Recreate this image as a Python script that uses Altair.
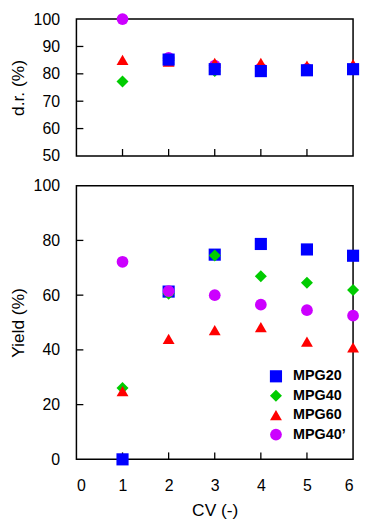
import altair as alt
import pandas as pd

# ---- data ----
cv = [1, 2, 3, 4, 5, 6]
series = ["MPG20", "MPG40", "MPG60", "MPG40\u2019"]
colors = ["#0000FF", "#00CC00", "#FF0000", "#CC00FF"]
shapes = ["square", "diamond", "triangle-up", "circle"]

# d.r. (%) values (top panel)
dr_mpg20 = [None, 85.2, 81.7, 81.0, 81.3, 81.7]
dr_mpg40 = [77.2, 85.0, 81.0, 81.5, 81.5, 81.8]
dr_mpg60 = [85.1, 84.5, 84.0, 84.0, 83.0, 83.5]
dr_mpg40p = [100.0, 85.8, 83.0, 82.0, 81.8, 81.8]

# Yield (%) values (bottom panel)
y_mpg20 = [0.0, 61.3, 74.8, 78.7, 76.7, 74.4]
y_mpg40 = [26.1, 60.5, 74.5, 66.9, 64.5, 61.9]
y_mpg60 = [24.9, 44.0, 47.2, 48.3, 43.0, 40.9]
y_mpg40p = [72.2, 61.5, 60.0, 56.5, 54.5, 52.5]

# axis tick values
x_labels = [0, 1, 2, 3, 4, 5, 6]
x_inner_ticks = [1, 2, 3, 4, 5]
dr_labels = [50, 60, 70, 80, 90, 100]
dr_inner_ticks = [60, 70, 80, 90]
y_labels = [0, 20, 40, 60, 80, 100]
y_inner_ticks = [20, 40, 60, 80]


def long_df(cols, order):
    rows = []
    for name in order:
        vals = cols[name]
        for c, v in zip(cv, vals):
            if v is not None:
                rows.append({"CV": c, "val": v, "series": name})
    return pd.DataFrame(rows)


dr_cols = dict(zip(series, [dr_mpg20, dr_mpg40, dr_mpg60, dr_mpg40p]))
y_cols = dict(zip(series, [y_mpg20, y_mpg40, y_mpg60, y_mpg40p]))
# drawing order differs per panel
dr_df = long_df(dr_cols, ["MPG40\u2019", "MPG40", "MPG60", "MPG20"])
y_df = long_df(y_cols, ["MPG20", "MPG40", "MPG60", "MPG40\u2019"])

W, H1, H2 = 279, 138, 276
FONT = "Liberation Sans"
TICK_LEN = 7
LABEL_FS = 16
TITLE_FS = 17.5

xscale = alt.Scale(domain=[0, 6], nice=False, zero=False)
color_scale = alt.Scale(domain=series, range=colors)
shape_scale = alt.Scale(domain=series, range=shapes)
size_scale = alt.Scale(domain=series, range=[150, 140, 185, 150])


def panel(df, ydomain, ylabels, yinner, ytitle, height, show_x, legend):
    if show_x:
        xaxis = alt.Axis(values=x_labels, ticks=False, domain=False, grid=False,
                         title="CV (-)", labelPadding=18, titlePadding=9,
                         labelFontSize=LABEL_FS, titleFontSize=TITLE_FS, format="d")
    else:
        xaxis = alt.Axis(labels=False, ticks=False, domain=False, grid=False, title=None)
    yaxis = alt.Axis(values=ylabels, ticks=False, domain=False, grid=False,
                     title=ytitle, labelPadding=17, titlePadding=6,
                     labelFontSize=LABEL_FS, titleFontSize=TITLE_FS, format="d")
    yscale = alt.Scale(domain=ydomain, nice=False, zero=False)

    if legend:
        leg = alt.Legend(title=None, orient="none", legendX=194, legendY=185,
                         symbolSize=150, labelFontSize=14.5, labelFontWeight="bold",
                         labelFont=FONT, labelColor="black", labelOffset=10,
                         rowPadding=4.6, symbolStrokeWidth=0, symbolOpacity=1,
                         padding=0)
    else:
        leg = None

    pts = alt.Chart(df).mark_point(filled=True, opacity=1, strokeWidth=0).encode(
        x=alt.X("CV:Q", scale=xscale, axis=xaxis),
        y=alt.Y("val:Q", scale=yscale, axis=yaxis),
        color=alt.Color("series:N", scale=color_scale, legend=leg),
        shape=alt.Shape("series:N", scale=shape_scale, legend=leg),
        size=alt.Size("series:N", scale=size_scale, legend=None),
    )
    ytk = alt.Chart(pd.DataFrame({"val": yinner})).mark_rule(
        color="black", strokeWidth=1.3).encode(
        y=alt.Y("val:Q", scale=yscale, axis=yaxis),
        x=alt.value(0), x2=alt.value(TICK_LEN))
    xtk = alt.Chart(pd.DataFrame({"CV": x_inner_ticks})).mark_rule(
        color="black", strokeWidth=1.3).encode(
        x=alt.X("CV:Q", scale=xscale, axis=xaxis),
        y=alt.value(height), y2=alt.value(height - TICK_LEN))
    return alt.layer(ytk, xtk, pts).properties(width=W, height=height)


top = panel(dr_df, [50, 100], dr_labels, dr_inner_ticks, "d.r. (%)", H1, False, False)
bottom = panel(y_df, [0, 100], y_labels, y_inner_ticks, "Yield (%)", H2, True, True)

chart = alt.vconcat(top, bottom, spacing=30, bounds="flush").resolve_scale(
    color="independent", shape="independent", size="independent"
).properties(padding=0).configure_view(
    stroke="black", strokeWidth=1.5
).configure_axis(
    labelFont=FONT, titleFont=FONT, labelColor="black", titleColor="black",
    titleFontWeight="normal"
)

chart.save("out.html", embed_options={"renderer": "svg", "actions": False})
